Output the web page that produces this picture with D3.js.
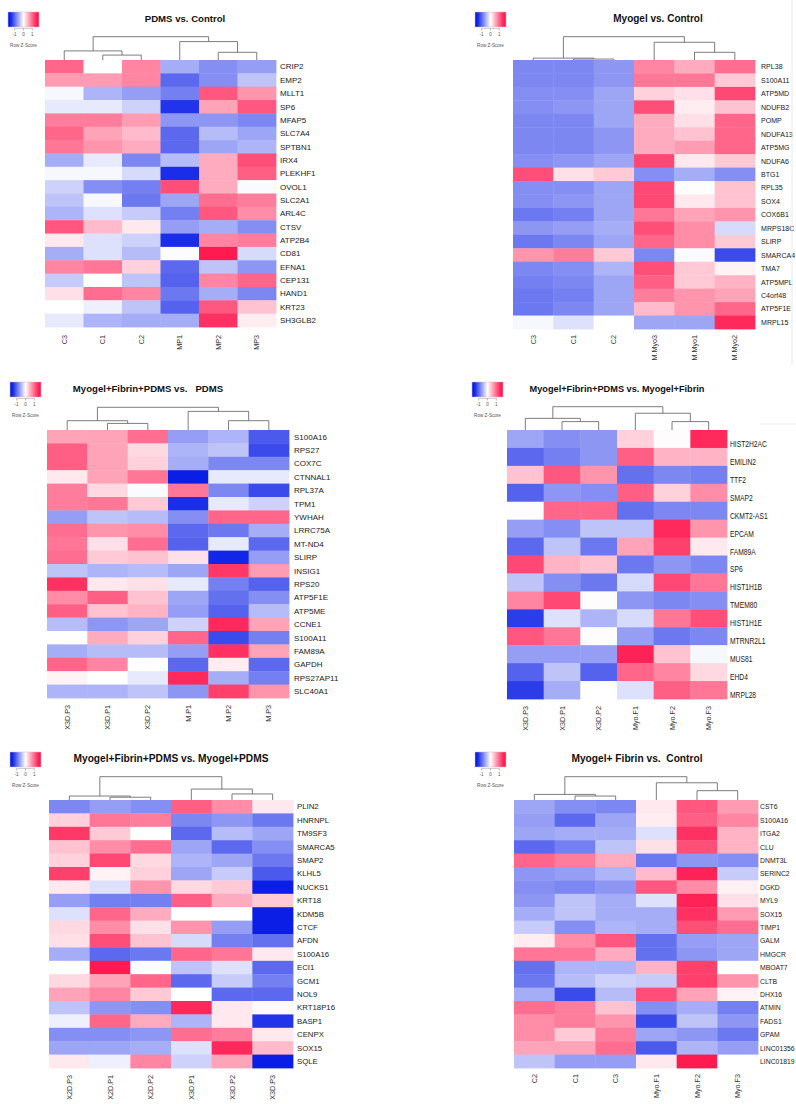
<!DOCTYPE html>
<html>
<head>
<meta charset="utf-8">
<script src="https://cdn.jsdelivr.net/npm/d3@7"></script>
<style>
html, body { margin: 0; padding: 0; background: #fff; }
svg { display: block; font-family: "Liberation Sans", Arial, Helvetica, sans-serif; }
</style>
</head>
<body>
<svg id="chart" width="796" height="1104"></svg>
<script>
// ---------- Panel 1: PDMS vs. Control ----------
const p1Title = "PDMS vs. Control";
const p1Cols = ["C3", "C1", "C2", "MP1", "MP2", "MP3"];
const p1Rows = ["CRIP2", "EMP2", "MLLT1", "SP6", "MFAP5", "SLC7A4", "SPTBN1", "IRX4", "PLEKHF1", "OVOL1",
  "SLC2A1", "ARL4C", "CTSV", "ATP2B4", "CD81", "EFNA1", "CEP131", "HAND1", "KRT23", "SH3GLB2"];
const p1Values = [
  [1.0, 0, 0.8, -0.55, -0.75, -0.65],
  [0.65, 0.65, 0.8, -1.0, -0.75, -0.4],
  [-0.05, -0.5, -0.65, -0.85, 1.1, 0.7],
  [-0.15, -0.15, -0.3, -1.35, 0.6, 1.1],
  [0.85, 0.85, 0.65, -0.7, -0.7, -0.8],
  [1.0, 0.6, 0.45, -1.0, -0.45, -0.6],
  [0.9, 0.7, 0.55, -1.0, -0.6, -0.5],
  [-0.55, -0.15, -0.8, -0.45, 0.55, 1.15],
  [-0.05, -0.05, -0.25, -1.4, 0.55, 1.05],
  [-0.3, -0.75, -0.85, 1.15, 0.55, -0.03],
  [-0.4, -0.05, -0.9, -0.6, 0.95, 0.85],
  [-0.5, -0.2, -0.35, -0.85, 1.1, 0.75],
  [1.1, 0.45, 0.15, -0.65, -0.55, -0.75],
  [0.15, -0.2, -0.3, -1.4, 0.8, 0.85],
  [-0.55, -0.2, -0.45, -0.02, 1.5, -0.25],
  [0.8, 0.9, 0.3, -1.0, -0.4, -0.7],
  [-0.35, 0, -0.4, -1.05, 0.8, 1.0],
  [0.2, 0.95, 0.8, -0.9, -0.55, -0.8],
  [0, -0.1, -0.4, -1.05, 1.1, 0.4],
  [-0.15, -0.5, -0.55, -0.55, 1.35, 0.12]
];
// [merge height, left, right]; leaves are column indices
const p1Tree = [10, [3.9, 0, [2.1, 1, 2]], [7.9, 3, [3.3, 4, 5]]];

// ---------- Panel 2: Myogel vs. Control ----------
const p2Title = "Myogel vs. Control";
const p2Cols = ["C3", "C1", "C2", "M.Myo3", "M.Myo1", "M.Myo2"];
const p2Rows = ["RPL38", "S100A11", "ATP5MD", "NDUFB2", "POMP", "NDUFA13", "ATP5MG", "NDUFA6", "BTG1", "RPL35",
  "SOX4", "COX6B1", "MRPS18C", "SLIRP", "SMARCA4", "TMA7", "ATP5MPL", "C4orf48", "ATP5F1E", "MRPL15"];
const p2Values = [
  [-0.8, -0.8, -0.7, 0.8, 0.55, 0.95],
  [-0.8, -0.8, -0.7, 0.9, 0.9, 0.35],
  [-0.75, -0.75, -0.6, 0.3, 0.2, 1.2],
  [-0.75, -0.7, -0.6, 1.15, 0.12, 0.4],
  [-0.8, -0.8, -0.6, 0.55, 0.2, 1.0],
  [-0.8, -0.8, -0.7, 0.55, 0.4, 1.0],
  [-0.8, -0.8, -0.7, 0.55, 0.65, 1.0],
  [-0.75, -0.7, -0.6, 1.2, 0.15, 0.35],
  [1.15, 0.2, 0.35, -0.75, -0.55, -0.75],
  [-0.75, -0.75, -0.6, 1.2, 0.02, 0.4],
  [-0.75, -0.7, -0.6, 1.2, 0.15, 0.4],
  [-0.9, -0.85, -0.6, 0.9, 0.6, 0.7],
  [-0.7, -0.65, -0.55, 1.15, 0.75, -0.25],
  [-0.9, -0.8, -0.6, 1.0, 0.75, 0.35],
  [0.7, 0.85, 0.35, -0.8, -0.03, -1.2],
  [-0.8, -0.75, -0.5, 1.15, 0.35, 0.08],
  [-0.85, -0.8, -0.6, 1.05, 0.35, 0.5],
  [-0.9, -0.85, -0.6, 0.85, 0.7, 0.6],
  [-0.9, -0.8, -0.6, 0.45, 0.7, 1.0],
  [-0.05, -0.2, 0, -0.6, -0.6, 1.4]
];
const p2Tree = [10, [0.8, 0, [0.4, 1, 2]], [7.6, 3, [3.3, 4, 5]]];

// ---------- Panel 3: Myogel+Fibrin+PDMS vs. PDMS ----------
const p3Title = "Myogel+Fibrin+PDMS vs.   PDMS";
const p3Cols = ["X3D.P3", "X3D.P1", "X3D.P2", "M.P1", "M.P2", "M.P3"];
const p3Rows = ["S100A16", "RPS27", "COX7C", "CTNNAL1", "RPL37A", "TPM1", "YWHAH", "LRRC75A", "MT-ND4", "SLIRP",
  "INSIG1", "RPS20", "ATP5F1E", "ATP5ME", "CCNE1", "S100A11", "FAM89A", "GAPDH", "RPS27AP11", "SLC40A1"];
const p3Values = [
  [0.6, 0.6, 0.95, -0.65, -0.5, -1.1],
  [1.05, 0.6, 0.25, -0.5, -0.4, -1.2],
  [1.05, 0.6, 0.3, -0.55, -0.8, -0.8],
  [0.15, 0.6, 0.9, -1.5, -0.15, -0.15],
  [0.85, 0.25, -0.03, 0.9, -0.8, -1.2],
  [0.85, 0.9, 0.35, -1.4, -0.15, -0.3],
  [-0.65, -0.4, -0.45, -0.75, 1.0, 1.0],
  [0.95, 0.7, 0.75, -1.0, -0.9, -0.55],
  [0.9, 0.2, 0.95, -1.05, -0.15, -1.0],
  [0.95, 0.35, 0.4, 0.2, -1.45, -0.65],
  [-0.4, -0.5, -0.45, -0.6, 1.3, 0.65],
  [1.35, 0.15, 0.2, -0.15, -0.85, -1.05],
  [0.75, 1.05, 0.4, -0.6, -0.95, -0.75],
  [1.05, 0.4, 0.5, -0.65, -1.05, -0.45],
  [-0.45, -0.7, -0.6, -0.3, 1.4, 0.6],
  [0, 0.55, 0.3, 1.0, -1.2, -0.85],
  [-0.55, -0.45, -0.45, -0.65, 1.35, 0.6],
  [1.0, 0.8, 0, -1.0, 0.12, -1.0],
  [0.08, 0, -0.15, 1.4, -0.55, -0.85],
  [-0.5, -0.5, -0.4, -0.7, 1.25, 0.7]
];
const p3Tree = [10, [4.1, 0, [2.9, 1, 2]], [8.2, 3, [4.1, 4, 5]]];

// ---------- Panel 4: Myogel+Fibrin+PDMS vs. Myogel+Fibrin ----------
const p4Title = "Myogel+Fibrin+PDMS vs. Myogel+Fibrin";
const p4Cols = ["X3D.P3", "X3D.P1", "X3D.P2", "Myo.F1", "Myo.F2", "Myo.F3"];
const p4Rows = ["HIST2H2AC", "EMILIN2", "TTF2", "SMAP2", "CKMT2-AS1", "EPCAM", "FAM89A", "SP6", "HIST1H1B", "TMEM80",
  "HIST1H1E", "MTRNR2L1", "MUS81", "EHD4", "MRPL28"];
const p4Values = [
  [-0.6, -0.75, -0.7, 0.3, 0.02, 1.4],
  [-1.0, -0.85, -0.7, 1.05, 0.5, 0.5],
  [0.4, 1.1, 0.7, -0.95, -0.8, -0.85],
  [-1.05, -0.7, -0.75, 1.05, 0.3, 0.75],
  [0.02, 1.0, 1.0, -0.95, -0.8, -0.8],
  [-0.65, -0.75, -0.4, -0.4, 1.4, 0.7],
  [-1.0, -0.4, -0.9, 0.6, 1.25, 0.15],
  [1.2, 0.5, 0.4, -0.9, -0.7, -0.8],
  [-0.4, -0.75, -0.9, -0.25, 1.2, 0.9],
  [0.8, 1.2, 0.02, -0.7, -0.8, -0.75],
  [-1.3, -0.2, -0.5, -0.25, 0.9, 1.15],
  [1.1, 0.9, 0.02, -0.65, -0.9, -0.8],
  [-0.65, -0.65, -0.65, 1.45, 0.4, -0.05],
  [-1.05, -0.4, -1.05, 1.0, 0.8, 0.25],
  [-1.3, -0.55, 0, -0.2, 1.05, 0.9]
];
const p4Tree = [10, [5.0, 0, [3.6, 1, 2]], [7.2, 3, [3.6, 4, 5]]];

// ---------- Panel 5: Myogel+Fibrin+PDMS vs. Myogel+PDMS ----------
const p5Title = "Myogel+Fibrin+PDMS vs. Myogel+PDMS";
const p5Cols = ["X2D.P3", "X2D.P1", "X2D.P2", "X3D.P1", "X3D.P2", "X3D.P3"];
const p5Rows = ["PLIN2", "HNRNPL", "TM9SF3", "SMARCA5", "SMAP2", "KLHL5", "NUCKS1", "KRT18", "KDM5B", "CTCF",
  "AFDN", "S100A16", "ECI1", "GCM1", "NOL9", "KRT18P16", "BASP1", "CENPX", "SOX15", "SQLE"];
const p5Values = [
  [-0.8, -0.65, -0.75, 1.05, 0.75, 0.15],
  [0.3, 0.9, 0.85, -0.8, -0.7, -0.9],
  [1.3, 0.35, 0, -1.0, -0.45, -0.6],
  [0.4, 0.75, 0.95, -0.6, -1.0, -0.75],
  [0.3, 1.2, 0.25, -0.5, -0.6, -0.9],
  [1.25, 0.08, 0.3, -0.6, -0.35, -1.1],
  [0.15, -0.2, 0.7, 0.25, 0.35, -1.6],
  [-0.65, -0.85, -0.85, 1.05, 0.55, 0.35],
  [-0.2, 1.0, 0.55, 0, 0, -1.5],
  [0.25, 0.75, 0.2, 0.7, -0.65, -1.5],
  [0.2, 1.15, 0.4, -0.25, -0.85, -0.95],
  [-0.55, -1.0, -0.9, 1.0, 0.9, 0.15],
  [0, 1.5, 0, -0.4, -0.2, -1.0],
  [0.25, 0.6, 1.0, -1.0, -0.35, -0.85],
  [0.6, 0.8, 0.35, 0, -1.0, -1.0],
  [-0.4, -0.7, -0.75, 1.4, 0.15, 0.03],
  [-0.1, 1.0, 0.55, -0.5, 0.15, -1.35],
  [-0.75, -0.75, -0.7, 0.95, 0.85, 0.15],
  [-0.6, -0.6, -0.55, -0.2, 1.4, 0.45],
  [0.15, -0.1, 0.8, -0.3, 0.6, -1.5]
];
const p5Tree = [10, [1.7, 0, [1.2, 1, 2]], [4.7, 3, [2.6, 4, 5]]];

// ---------- Panel 6: Myogel+ Fibrin vs. Control ----------
const p6Title = "Myogel+ Fibrin vs.  Control";
const p6Cols = ["C2", "C1", "C3", "Myo.F1", "Myo.F2", "Myo.F3"];
const p6Rows = ["CST6", "S100A16", "ITGA2", "CLU", "DNMT3L", "SERINC2", "DGKD", "MYL9", "SOX15", "TIMP1",
  "GALM", "HMGCR", "MBOAT7", "CLTB", "DHX16", "ATMIN", "FADS1", "GPAM", "LINC01356", "LINC01819"];
const p6Values = [
  [-0.6, -0.75, -0.8, 0.15, 1.1, 0.65],
  [-0.65, -1.0, -0.6, 0.12, 1.05, 0.8],
  [-0.6, -0.55, -0.55, -0.2, 1.35, 0.5],
  [-1.0, -0.85, -0.4, 0.2, 1.15, 0.5],
  [1.0, 0.85, 0.55, -0.9, -0.7, -0.75],
  [-0.7, -0.65, -0.5, 0.45, 1.45, -0.35],
  [-0.75, -0.8, -0.7, 1.1, 0.75, 0.1],
  [-0.7, -0.4, -0.55, -0.2, 1.45, 0.2],
  [-0.55, -0.4, -0.55, -0.55, 1.35, 0.65],
  [-0.35, -0.75, -0.5, -0.55, 1.15, 0.95],
  [0.12, 0.75, 1.1, -0.95, -0.65, -0.6],
  [0.9, 0.9, 0.55, -0.95, -0.7, -0.6],
  [-0.95, -0.5, -0.5, 0.5, 1.25, 0],
  [-0.9, -0.45, -0.3, -0.35, 1.25, 0.7],
  [-0.55, -1.2, -0.45, 1.15, 0.6, 0.08],
  [0.95, 0.85, 0.4, -0.75, -0.55, -0.85],
  [0.75, 0.85, 0.7, -1.2, -0.4, -0.7],
  [0.75, 0.35, 0.85, -0.6, -0.7, -0.9],
  [0.6, 0.6, 0.95, -1.1, -0.5, -0.65],
  [-0.4, -0.65, -0.65, 0.15, 1.5, 0]
];
const p6Tree = [10, [2.4, 0, [1.7, 1, 2]], [7.4, 3, [4.0, 4, 5]]];

// Colour key ticks
const keyTicks = [-1, 0, 1];
const keyLabel = "Row Z-Score";

// ---------- layout of each panel on the page ----------
const panels = [
  { title: p1Title, cols: p1Cols, rows: p1Rows, values: p1Values, tree: p1Tree,
    x0: 45, x1: 276, y0: 60, y1: 327, treeTop: 36.7,
    titleX: 185, titleY: 22, titleSize: 9.6, keyX: 8, keyY: 12,
    labelX: 280, labelSize: 8, labelScale: 1, labelDy: 0, colY: 335, colSize: 7.2 },
  { title: p2Title, cols: p2Cols, rows: p2Rows, values: p2Values, tree: p2Tree,
    x0: 513, x1: 755, y0: 60, y1: 329, treeTop: 36.7,
    titleX: 658, titleY: 22, titleSize: 10, keyX: 475, keyY: 12,
    labelX: 761, labelSize: 7.6, labelScale: 0.93, labelDy: 0, colY: 335, colSize: 7.2 },
  { title: p3Title, cols: p3Cols, rows: p3Rows, values: p3Values, tree: p3Tree,
    x0: 47, x1: 289, y0: 430, y1: 698, treeTop: 407.3,
    titleX: 148, titleY: 392, titleSize: 9.6, keyX: 10, keyY: 382,
    labelX: 294, labelSize: 8, labelScale: 1, labelDy: 0, colY: 705, colSize: 7.2 },
  { title: p4Title, cols: p4Cols, rows: p4Rows, values: p4Values, tree: p4Tree,
    x0: 507, x1: 727, y0: 430, y1: 699, treeTop: 406.7,
    titleX: 617, titleY: 392, titleSize: 9.2, keyX: 472, keyY: 382,
    labelX: 730, labelSize: 8.4, labelScale: 0.8, labelDy: 5, colY: 706, colSize: 7.2 },
  { title: p5Title, cols: p5Cols, rows: p5Rows, values: p5Values, tree: p5Tree,
    x0: 49, x1: 293, y0: 800, y1: 1068, treeTop: 776.7,
    titleX: 171, titleY: 762, titleSize: 10.2, keyX: 10, keyY: 752,
    labelX: 297, labelSize: 7.8, labelScale: 1, labelDy: 0, colY: 1075, colSize: 7.2 },
  { title: p6Title, cols: p6Cols, rows: p6Rows, values: p6Values, tree: p6Tree,
    x0: 514, x1: 758, y0: 800, y1: 1068, treeTop: 776.7,
    titleX: 637, titleY: 762, titleSize: 10.2, keyX: 475, keyY: 752,
    labelX: 760, labelSize: 7.8, labelScale: 0.88, labelDy: 0, colY: 1074, colSize: 7.2 }
];

const color = d3.scaleLinear()
  .domain([-1.5, 0, 1.5])
  .range(["#0a1ee6", "#ffffff", "#ff1a50"])
  .clamp(true);

const svg = d3.select("#chart");
const defs = svg.append("defs");

// shared gradient for the colour keys
const keyScale = d3.scaleLinear().domain([-1.75, 1.75]);
const grad = defs.append("linearGradient").attr("id", "zkey").attr("x1", "0%").attr("x2", "100%");
grad.selectAll("stop")
  .data(d3.range(0, 1.0001, 0.05))
  .join("stop")
  .attr("offset", d => (d * 100) + "%")
  .attr("stop-color", d => color(keyScale.invert(d)));

function drawKey(g, kx, ky) {
  const w = 31, h = 15;
  const ks = keyScale.copy().range([kx, kx + w]);
  g.append("rect").attr("x", kx).attr("y", ky).attr("width", w).attr("height", h)
    .attr("fill", "url(#zkey)").attr("stroke", "#d8b8c4").attr("stroke-width", 0.5);
  g.append("line").attr("x1", ks(-1)).attr("x2", ks(1)).attr("y1", ky + h + 1.5).attr("y2", ky + h + 1.5)
    .attr("stroke", "#888").attr("stroke-width", 0.4);
  g.selectAll(null).data(keyTicks).join("line")
    .attr("x1", d => ks(d)).attr("x2", d => ks(d))
    .attr("y1", ky + h + 1.5).attr("y2", ky + h + 3.5)
    .attr("stroke", "#777").attr("stroke-width", 0.5);
  g.selectAll(null).data(keyTicks).join("text")
    .attr("x", d => ks(d)).attr("y", ky + h + 8.5)
    .attr("text-anchor", "middle").attr("font-size", 4.6).attr("fill", "#555")
    .text(d => d);
  g.append("text").attr("x", kx + w / 2).attr("y", ky + h + 19.5)
    .attr("text-anchor", "middle").attr("font-size", 4.6).attr("fill", "#555")
    .text(keyLabel);
}

function drawPanel(p) {
  const g = svg.append("g");
  const x = d3.scaleBand().domain(d3.range(p.cols.length)).range([p.x0, p.x1]);
  const y = d3.scaleBand().domain(d3.range(p.rows.length)).range([p.y0, p.y1]);
  const hy = d3.scaleLinear().domain([0, 10]).range([p.y0, p.treeTop]);

  // heatmap cells
  const cells = [];
  p.values.forEach((row, i) => row.forEach((v, j) => cells.push({ i, j, v })));
  g.append("g").selectAll("rect").data(cells).join("rect")
    .attr("x", d => x(d.j)).attr("y", d => y(d.i))
    .attr("width", x.bandwidth() + 0.4).attr("height", y.bandwidth() + 0.4)
    .attr("fill", d => color(d.v));

  // column dendrogram
  const segs = [];
  function walk(node) {
    if (typeof node === "number") return { x: x(node) + x.bandwidth() / 2, h: 0 };
    const [h, a, b] = node;
    const A = walk(a), B = walk(b);
    segs.push([A.x, hy(h), B.x, hy(h)]);
    segs.push([A.x, hy(h), A.x, hy(A.h)]);
    segs.push([B.x, hy(h), B.x, hy(B.h)]);
    return { x: (A.x + B.x) / 2, h };
  }
  walk(p.tree);
  g.append("g").selectAll("line").data(segs).join("line")
    .attr("x1", d => d[0]).attr("y1", d => d[1]).attr("x2", d => d[2]).attr("y2", d => d[3])
    .attr("stroke", "#6e6e6e").attr("stroke-width", 0.9);

  // row labels
  g.append("g").selectAll("text").data(p.rows).join("text")
    .attr("transform", (d, i) => `translate(${p.labelX},${y(i) + y.bandwidth() / 2 + p.labelDy}) scale(${p.labelScale},1)`)
    .attr("dy", "0.35em").attr("font-size", p.labelSize).attr("fill", "#1a1a1a")
    .text(d => d);

  // column labels, rotated
  g.append("g").selectAll("text").data(p.cols).join("text")
    .attr("transform", (d, j) => `translate(${x(j) + x.bandwidth() / 2},${p.colY}) rotate(-90)`)
    .attr("dy", "0.35em").attr("text-anchor", "end")
    .attr("font-size", p.colSize).attr("fill", "#333")
    .text(d => d);

  // title
  g.append("text").attr("x", p.titleX).attr("y", p.titleY)
    .attr("text-anchor", "middle").attr("font-weight", "bold")
    .attr("font-size", p.titleSize).attr("fill", "#111")
    .style("white-space", "pre")
    .text(p.title);

  drawKey(g, p.keyX, p.keyY);
}

panels.forEach(drawPanel);

// faint frame edges between the stacked figures
svg.append("line").attr("x1", 792).attr("x2", 792).attr("y1", 0).attr("y2", 365)
  .attr("stroke", "#e4e4e4").attr("stroke-width", 0.8);
svg.append("line").attr("x1", 760).attr("x2", 796).attr("y1", 424).attr("y2", 424)
  .attr("stroke", "#e8e8e8").attr("stroke-width", 0.8);
</script>
</body>
</html>
